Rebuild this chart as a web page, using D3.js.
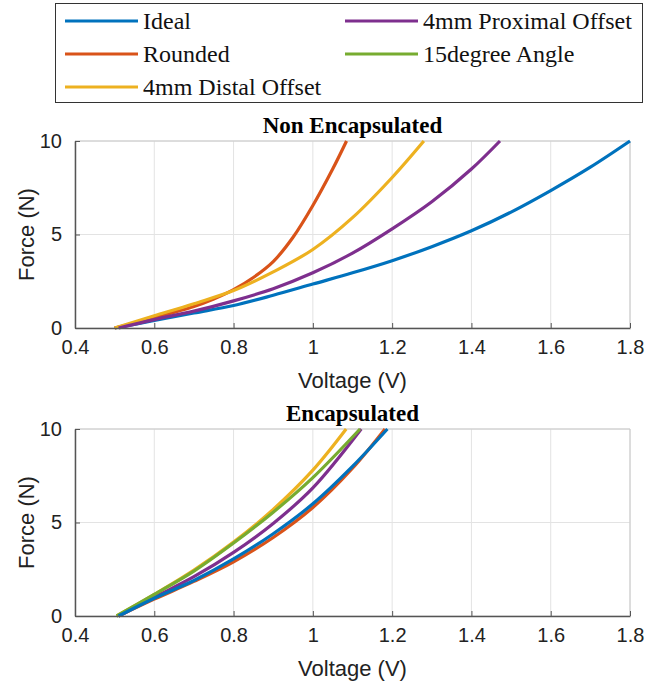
<!DOCTYPE html>
<html>
<head>
<meta charset="utf-8">
<script src="https://cdn.jsdelivr.net/npm/d3@7"></script>
<style>
  body { margin: 0; background: #fff; }
  svg { display: block; }
</style>
</head>
<body>
<script>
// series names + colours (matlab defaults)
const seriesNames = ["Ideal", "Rounded", "4mm Distal Offset", "4mm Proximal Offset", "15degree Angle"];
const seriesColors = ["#0072BD", "#D95319", "#EDB120", "#7E2F8E", "#77AC30"];

const xTicks = [0.4, 0.6, 0.8, 1, 1.2, 1.4, 1.6, 1.8];
const yTicks = [0, 5, 10];

// Non Encapsulated
const nonIdealV = [0.5, 0.6, 0.7, 0.8, 0.9, 1.0, 1.1, 1.2, 1.3, 1.4, 1.5, 1.6, 1.7, 1.8];
const nonIdealF = [0, 0.4, 0.8, 1.2, 1.75, 2.35, 2.95, 3.6, 4.35, 5.2, 6.2, 7.35, 8.6, 10];
const nonRoundV = [0.5, 0.6, 0.7, 0.75, 0.8, 0.85, 0.9, 0.95, 1.0, 1.05, 1.085];
const nonRoundF = [0, 0.55, 1.15, 1.55, 2.05, 2.7, 3.55, 4.85, 6.55, 8.5, 10];
const nonDistalV = [0.5, 0.6, 0.7, 0.8, 0.9, 1.0, 1.1, 1.2, 1.28];
const nonDistalF = [0, 0.65, 1.3, 2.0, 3.0, 4.2, 5.9, 8.05, 10];
const nonProxV = [0.51, 0.6, 0.7, 0.8, 0.9, 1.0, 1.1, 1.2, 1.3, 1.4, 1.472];
const nonProxF = [0, 0.45, 0.9, 1.45, 2.1, 2.95, 4.0, 5.3, 6.75, 8.5, 10];

// Encapsulated
const encIdealV = [0.51, 0.6, 0.7, 0.8, 0.9, 1.0, 1.1, 1.188];
const encIdealF = [0, 0.95, 1.9, 3.05, 4.4, 6.0, 8.0, 10];
const encRoundV = [0.51, 0.6, 0.7, 0.8, 0.9, 1.0, 1.1, 1.182];
const encRoundF = [0, 0.9, 1.85, 2.9, 4.2, 5.8, 7.9, 10];
const encDistalV = [0.505, 0.6, 0.7, 0.8, 0.9, 1.0, 1.084];
const encDistalF = [0, 1.15, 2.45, 3.95, 5.7, 7.8, 10];
const encProxV = [0.51, 0.6, 0.7, 0.8, 0.9, 1.0, 1.122];
const encProxF = [0, 1.0, 2.1, 3.4, 4.95, 6.85, 10];
const encAngleV = [0.505, 0.6, 0.7, 0.8, 0.9, 1.0, 1.119];
const encAngleF = [0, 1.15, 2.4, 3.9, 5.55, 7.4, 10];

function zip(vs, fs){ return vs.map((v, i) => [v, fs[i]]); }

const panels = [
  {title: "Non Encapsulated", top: 141, bottom: 328, lines: [
    {s: 0, pts: zip(nonIdealV, nonIdealF)},
    {s: 1, pts: zip(nonRoundV, nonRoundF)},
    {s: 2, pts: zip(nonDistalV, nonDistalF)},
    {s: 3, pts: zip(nonProxV, nonProxF)}
  ]},
  {title: "Encapsulated", top: 429, bottom: 616, lines: [
    {s: 1, pts: zip(encRoundV, encRoundF)},
    {s: 2, pts: zip(encDistalV, encDistalF)},
    {s: 3, pts: zip(encProxV, encProxF)},
    {s: 4, pts: zip(encAngleV, encAngleF)},
    {s: 0, pts: zip(encIdealV, encIdealF)}
  ]}
];

const W = 657, H = 683;
const left = 75, right = 630;
const sansFont = "'Liberation Sans', Arial, sans-serif";
const serifFont = "'Liberation Serif', 'Times New Roman', serif";

const svg = d3.select("body").append("svg").attr("width", W).attr("height", H);

panels.forEach(p => {
  const x = d3.scaleLinear().domain([0.4, 1.8]).range([left, right]);
  const y = d3.scaleLinear().domain([0, 10]).range([p.bottom, p.top]);
  const g = svg.append("g");

  // grid
  g.selectAll(".gx").data(xTicks).enter().append("line")
    .attr("x1", d => x(d)).attr("x2", d => x(d))
    .attr("y1", p.top).attr("y2", p.bottom)
    .attr("stroke", "#e3e3e3").attr("stroke-width", 1);
  g.selectAll(".gy").data(yTicks).enter().append("line")
    .attr("x1", left).attr("x2", right)
    .attr("y1", d => y(d)).attr("y2", d => y(d))
    .attr("stroke", "#e3e3e3").attr("stroke-width", 1);

  // box top/right (light)
  g.append("path")
    .attr("d", `M${left},${p.top}H${right}V${p.bottom}`)
    .attr("fill", "none").attr("stroke", "#c8c8c8").attr("stroke-width", 1);

  // curves
  const line = d3.line().x(d => x(d[0])).y(d => y(d[1])).curve(d3.curveCatmullRom.alpha(0.5));
  p.lines.forEach(l => {
    g.append("path").datum(l.pts)
      .attr("d", line)
      .attr("fill", "none")
      .attr("stroke", seriesColors[l.s])
      .attr("stroke-width", 3.2);
  });

  // axes (ticks inward)
  const xAxis = d3.axisBottom(x).tickValues(xTicks).tickFormat(d3.format("~g")).tickSizeInner(-5).tickSizeOuter(0).tickPadding(12);
  const yAxis = d3.axisLeft(y).tickValues(yTicks).tickSizeInner(-5).tickSizeOuter(0).tickPadding(13);
  const gx = g.append("g").attr("transform", `translate(0,${p.bottom})`).call(xAxis);
  const gy = g.append("g").attr("transform", `translate(${left},0)`).call(yAxis);
  [gx, gy].forEach(a => {
    a.select(".domain").attr("stroke", "#555").attr("stroke-width", 1.5);
    a.selectAll(".tick line").attr("stroke", "#555");
    a.selectAll("text").attr("font-family", sansFont).attr("font-size", 20).attr("fill", "#222");
  });

  g.append("text")
    .attr("x", (left + right) / 2).attr("y", p.top - 8)
    .attr("text-anchor", "middle")
    .attr("font-family", serifFont).attr("font-weight", "bold").attr("font-size", 23)
    .text(p.title);

  g.append("text")
    .attr("x", (left + right) / 2).attr("y", p.bottom + 60)
    .attr("text-anchor", "middle")
    .attr("font-family", sansFont).attr("font-size", 22).attr("fill", "#222")
    .text("Voltage (V)");

  g.append("text")
    .attr("transform", `translate(34,${(p.top + p.bottom) / 2}) rotate(-90)`)
    .attr("text-anchor", "middle")
    .attr("font-family", sansFont).attr("font-size", 22).attr("fill", "#222")
    .text("Force (N)");
});

// legend
const legend = svg.append("g");
legend.append("rect")
  .attr("x", 55.5).attr("y", 3.5).attr("width", 587).attr("height", 99)
  .attr("fill", "#fff").attr("stroke", "#333").attr("stroke-width", 1);

const legendPos = [
  {col: 0, row: 0}, {col: 0, row: 1}, {col: 0, row: 2}, {col: 1, row: 0}, {col: 1, row: 1}
];
seriesNames.forEach((name, i) => {
  const lx = legendPos[i].col ? 345 : 65;
  const ly = 21 + legendPos[i].row * 33;
  legend.append("line")
    .attr("x1", lx).attr("x2", lx + 73).attr("y1", ly).attr("y2", ly)
    .attr("stroke", seriesColors[i]).attr("stroke-width", 3);
  legend.append("text")
    .attr("x", lx + 78).attr("y", ly + 8)
    .attr("font-family", serifFont).attr("font-size", 24).attr("fill", "#111")
    .text(name);
});
</script>
</body>
</html>
